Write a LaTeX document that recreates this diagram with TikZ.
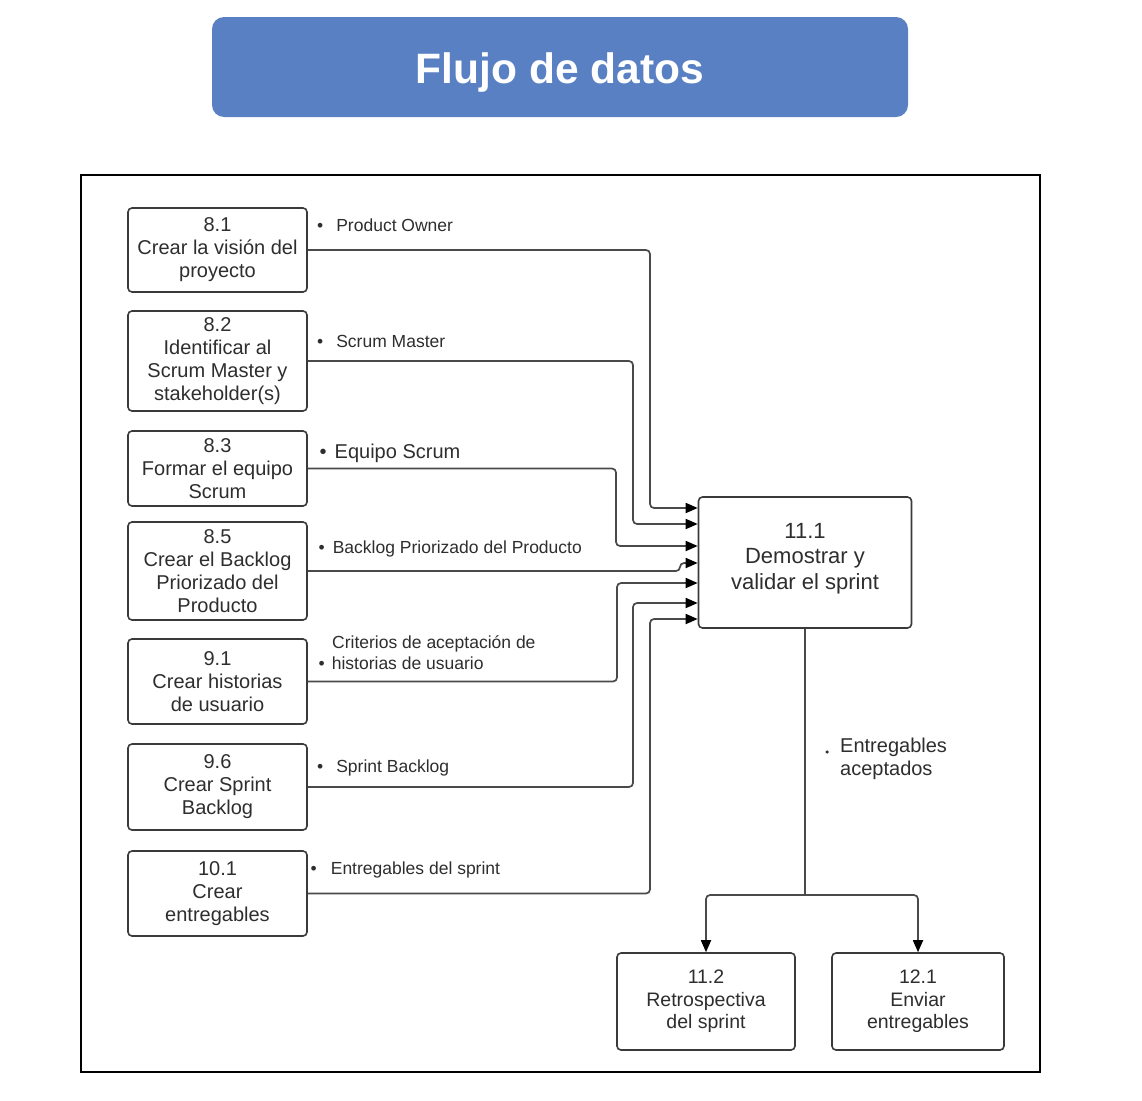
\documentclass[tikz,border=0pt]{standalone}
\usepackage{fontspec}
\setmainfont{Liberation Sans}
\usetikzlibrary{arrows.meta}
\definecolor{titleblue}{HTML}{5A80C4}
\definecolor{boxline}{HTML}{3A3A3A}
\definecolor{txt}{HTML}{2E2E2E}
\definecolor{flowc}{HTML}{4A4A4A}
\tikzset{
  proc/.style={draw=boxline, line width=1.6pt, rounded corners=4pt, align=center,
    text=txt, inner sep=2pt, font=\fontsize{20}{23}\selectfont},
  conn/.style={draw=flowc, line width=1.7pt, rounded corners=4pt},
  flow/.style={conn, -{Triangle[length=12pt,width=10pt,color=black]}},
  lab/.style={font=\fontsize{17.5}{21}\selectfont, text=txt, inner sep=0pt, anchor=base west},
  labbig/.style={font=\fontsize{20}{23}\selectfont, text=txt, inner sep=0pt, anchor=base west, align=left},
}
\begin{document}
\begin{tikzpicture}[x=1pt,y=-1pt]
\useasboundingbox (0,0) rectangle (1142,1100);
\fill[white] (0,0) rectangle (1142,1100);

% title
\node[fill=titleblue, rounded corners=12pt, minimum width=696pt, minimum height=100pt,
      label={[yshift=-6pt, text=white, font=\fontsize{42.5}{48}\selectfont\bfseries]center:Flujo de datos}] (title) at (560,67) {};

% frame
\node[draw=black, line width=2.2pt, minimum width=959pt, minimum height=897pt, inner sep=0pt] (frame) at (560.5,623.5) {};

% left process boxes
\node[proc, minimum width=179pt, minimum height=84pt] (b81) at (217.5,250) {8.1\\Crear la visión del\\proyecto};
\node[proc, minimum width=179pt, minimum height=100pt] (b82) at (217.5,361) {8.2\\Identificar al\\Scrum Master y\\stakeholder(s)};
\node[proc, minimum width=179pt, minimum height=75pt] (b83) at (217.5,468.5) {8.3\\Formar el equipo\\Scrum};
\node[proc, minimum width=179pt, minimum height=98pt] (b85) at (217.5,571) {8.5\\Crear el Backlog\\Priorizado del\\Producto};
\node[proc, minimum width=179pt, minimum height=85pt] (b91) at (217.5,681.5) {9.1\\Crear historias\\de usuario};
\node[proc, minimum width=179pt, minimum height=86pt] (b96) at (217.5,787) {9.6\\Crear Sprint\\Backlog};
\node[proc, minimum width=179pt, minimum height=85pt] (b101) at (217.5,893.5) {10.1\\Crear\\entregables};

% central box
\node[proc, minimum width=213pt, minimum height=131pt,
      label={[yshift=4pt, align=center, text=txt, font=\fontsize{22}{25.5}\selectfont]center:11.1\\Demostrar y\\validar el sprint}] (m) at (805,562.5) {};

% bottom boxes
\node[proc, minimum width=178pt, minimum height=97pt, font=\fontsize{19.5}{22.5}\selectfont] (r112) at (706,1001.5) {11.2\\Retrospectiva\\del sprint};
\node[proc, minimum width=172pt, minimum height=97pt, font=\fontsize{19.5}{22.5}\selectfont] (r121) at (918,1001.5) {12.1\\Enviar\\entregables};

% input connectors
\draw[flow] (b81.east) -| (650,508) -- (m.west |- 0,508);
\draw[flow] (b82.east) -| (633,524) -- (m.west |- 0,524);
\draw[flow] (b83.east) -| (616,546) -- (m.west |- 0,546);
\draw[flow] (b85.east) -- (680,571) |- (m.west |- 0,563);
\draw[flow] (b91.east) -| (617,583) -- (m.west |- 0,583);
\draw[flow] (b96.east) -| (633,603) -- (m.west |- 0,603);
\draw[flow] (b101.east) -| (650,619) -- (m.west |- 0,619);

% output connectors
\coordinate (split) at (805,895);
\draw[conn] (m.south) -- (split);
\draw[flow] (split) -| (r112.north);
\draw[flow] (split) -| (r121.north);

% labels
\node[lab] (l81) at (317,231.5) {•\hspace{13pt}Product Owner};
\node[lab] (l82) at (317,347.5) {•\hspace{13pt}Scrum Master};
\node[lab, font=\fontsize{20}{23}\selectfont] (l83) at (319.5,458) {•\hspace{8pt}Equipo Scrum};
\node[lab] (l85) at (318.5,553.5) {•\hspace{8pt}Backlog Priorizado del Producto};
\node[lab] (l91a) at (332,648.5) {Criterios de aceptación de};
\node[lab] (l91b) at (318.5,669.5) {•\hspace{7pt}historias de usuario};
\node[lab] (l96) at (317,772.5) {•\hspace{13pt}Sprint Backlog};
\node[lab] (l101) at (310.5,874.5) {•\hspace{14pt}Entregables del sprint};
\node[labbig] (lout) at (840,775) {Entregables\\aceptados};
\node[circle, fill=txt, inner sep=0pt, minimum size=3.5pt] (dot) at (827,752) {};
\end{tikzpicture}
\end{document}
